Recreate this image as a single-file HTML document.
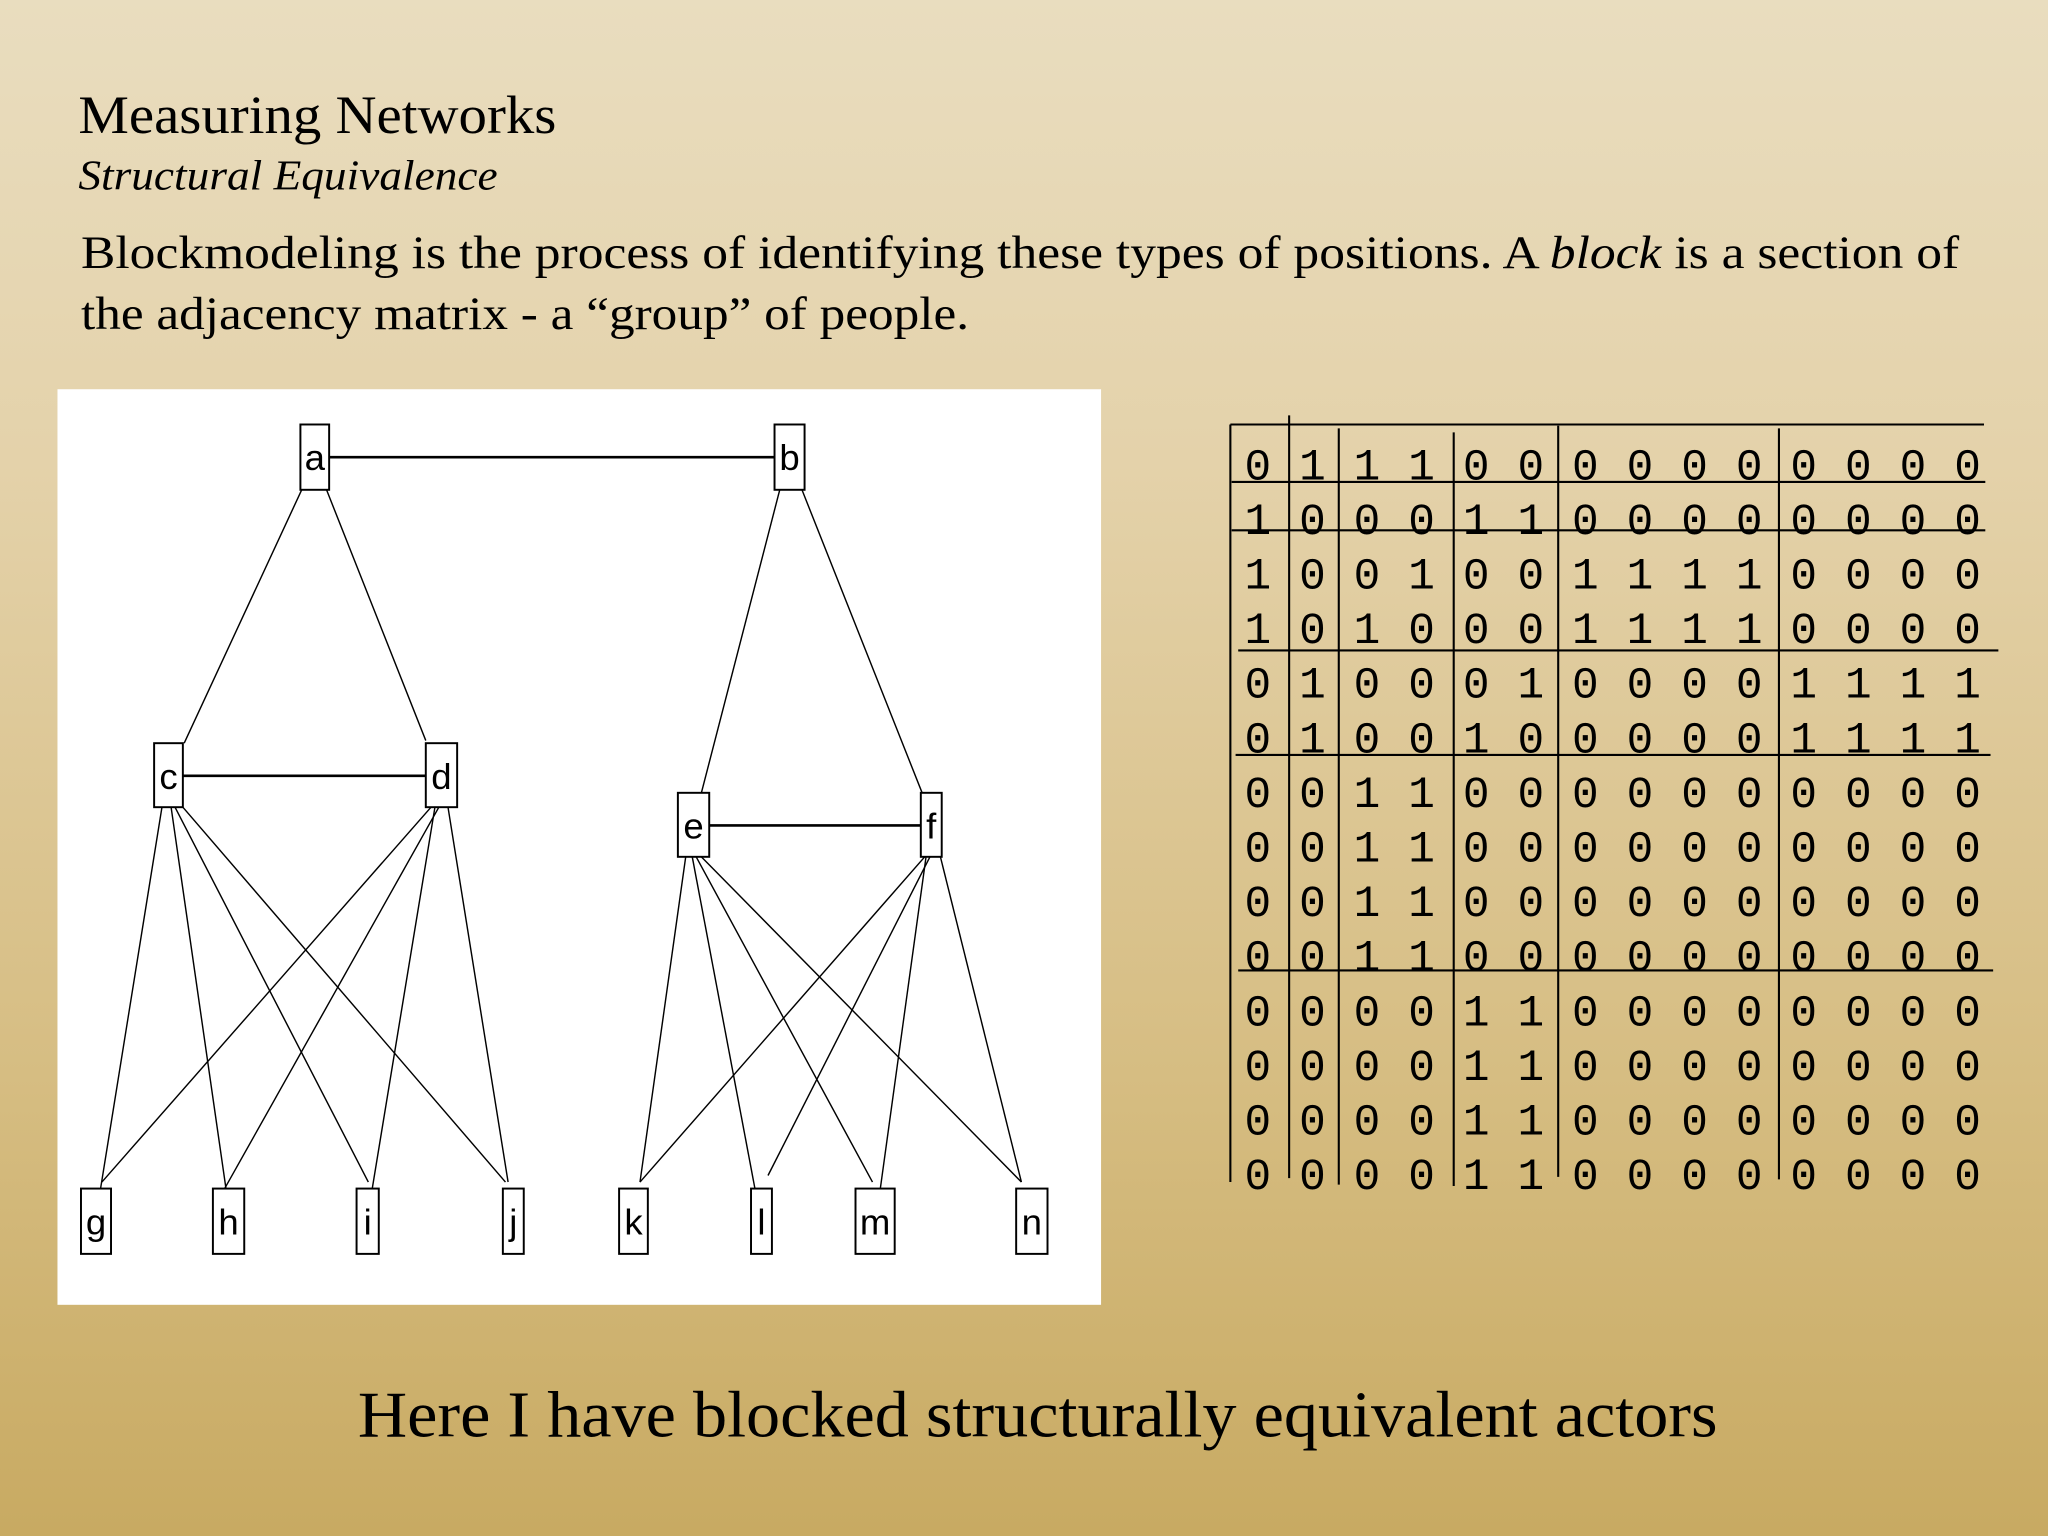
<!DOCTYPE html>
<html><head><meta charset="utf-8"><style>
html,body{margin:0;padding:0;width:2048px;height:1536px;overflow:hidden}
body{background:linear-gradient(#e9ddbf 0%,#e4d2aa 30%,#d6bd82 70%,#c8aa62 100%)}
svg{display:block}
</style></head><body>
<svg width="2048" height="1536" viewBox="0 0 1568 1176" xmlns="http://www.w3.org/2000/svg">
<g font-family="Liberation Serif, serif" fill="#000">
<text x="60" y="102" font-size="41" textLength="366" lengthAdjust="spacingAndGlyphs">Measuring Networks</text>
<text x="60" y="145" font-size="32" font-style="italic" textLength="321" lengthAdjust="spacingAndGlyphs">Structural Equivalence</text>
<text x="62" y="205" font-size="36" textLength="1438" lengthAdjust="spacingAndGlyphs">Blockmodeling is the process of identifying these types of positions. A <tspan font-style="italic">block</tspan> is a section of</text>
<text x="62" y="252" font-size="36" textLength="680" lengthAdjust="spacingAndGlyphs">the adjacency matrix - a “group” of people.</text>
<text x="274" y="1100" font-size="50" textLength="1041" lengthAdjust="spacingAndGlyphs">Here I have blocked structurally equivalent actors</text>
</g>
<rect x="44" y="298" width="799" height="701" fill="#fff"/>
<g stroke="#000" fill="none" stroke-width="1.1">
<line x1="252" y1="350" x2="593" y2="350" stroke-width="2"/>
<line x1="140" y1="594" x2="326" y2="594" stroke-width="2"/>
<line x1="543" y1="632" x2="705" y2="632" stroke-width="2"/>
<line x1="231" y1="375" x2="141" y2="569"/>
<line x1="250" y1="375" x2="326" y2="567"/>
<line x1="597" y1="375" x2="537" y2="607"/>
<line x1="614" y1="375" x2="706" y2="607"/>
<line x1="124" y1="618" x2="77" y2="910"/>
<line x1="131" y1="618" x2="173" y2="910"/>
<line x1="134" y1="618" x2="282" y2="905"/>
<line x1="140" y1="618" x2="387" y2="905"/>
<line x1="330" y1="618" x2="78" y2="905"/>
<line x1="336" y1="618" x2="172" y2="910"/>
<line x1="333" y1="618" x2="285" y2="910"/>
<line x1="343" y1="618" x2="389" y2="905"/>
<line x1="525" y1="656" x2="490" y2="905"/>
<line x1="530" y1="656" x2="578" y2="910"/>
<line x1="533" y1="656" x2="668" y2="905"/>
<line x1="537" y1="656" x2="782" y2="905"/>
<line x1="708" y1="656" x2="490" y2="905"/>
<line x1="712" y1="656" x2="588" y2="900"/>
<line x1="709" y1="656" x2="674" y2="910"/>
<line x1="720" y1="656" x2="782" y2="905"/>
</g>
<g stroke="#000" fill="#fff" stroke-width="1.5">
<rect x="230" y="325" width="22" height="50"/>
<rect x="593" y="325" width="23" height="50"/>
<rect x="118" y="569" width="22" height="49"/>
<rect x="326" y="569" width="24" height="49"/>
<rect x="519" y="607" width="24" height="49"/>
<rect x="705" y="607" width="16" height="49"/>
<rect x="62" y="910" width="23" height="50"/>
<rect x="163" y="910" width="24" height="50"/>
<rect x="273" y="910" width="17" height="50"/>
<rect x="385" y="910" width="16" height="50"/>
<rect x="474" y="910" width="22" height="50"/>
<rect x="575" y="910" width="16" height="50"/>
<rect x="655" y="910" width="30" height="50"/>
<rect x="778" y="910" width="24" height="50"/>
</g>
<g font-family="Liberation Sans, sans-serif" font-size="28" text-anchor="middle" fill="#000">
<text x="241" y="360">a</text><text x="604.5" y="360">b</text>
<text x="129" y="604">c</text><text x="338" y="604">d</text>
<text x="531" y="642">e</text><text x="713" y="642">f</text>
<text x="73.5" y="945">g</text><text x="175" y="945">h</text>
<text x="281.5" y="945">i</text><text x="393" y="945">j</text>
<text x="485" y="945">k</text><text x="583" y="945">l</text>
<text x="670" y="945">m</text><text x="790" y="945">n</text>
</g>
<g stroke="#000" stroke-width="1.6">
<line x1="942" y1="325" x2="1519" y2="325"/>
<line x1="943" y1="369" x2="1520" y2="369"/>
<line x1="943" y1="406" x2="1520" y2="406"/>
<line x1="948" y1="498" x2="1530" y2="498"/>
<line x1="946" y1="578" x2="1524" y2="578"/>
<line x1="948" y1="743" x2="1526" y2="743"/>
<line x1="942" y1="325" x2="942" y2="905"/>
<line x1="987" y1="318" x2="987" y2="902"/>
<line x1="1025" y1="328" x2="1025" y2="907"/>
<line x1="1113" y1="331" x2="1113" y2="908"/>
<line x1="1193" y1="326" x2="1193" y2="901"/>
<line x1="1362" y1="328" x2="1362" y2="903"/>
</g>
<g font-family="Liberation Mono, monospace" font-size="34" text-anchor="middle" fill="#000" id="m"></g>
</svg>
<script>
var rows=["01110000000000","10001100000000","10010011110000","10100011110000","01000100001111","01001000001111","00110000000000","00110000000000","00110000000000","00110000000000","00001100000000","00001100000000","00001100000000","00001100000000"];
var g=document.getElementById("m"),s="";
for(var r=0;r<14;r++)for(var c=0;c<14;c++){s+='<text x="'+(963+c*41.8).toFixed(1)+'" y="'+(367+r*41.8).toFixed(1)+'">'+rows[r][c]+'</text>';}
g.innerHTML=s;
</script>
</body></html>
